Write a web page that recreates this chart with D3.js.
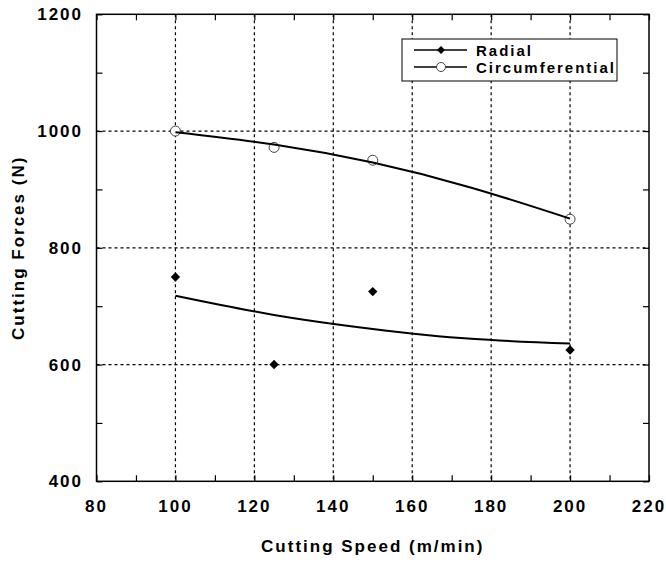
<!DOCTYPE html>
<html>
<head>
<meta charset="utf-8">
<script src="https://cdn.jsdelivr.net/npm/d3@7"></script>
<style>
  body { margin: 0; background: #fff; }
  text { font-family: "Liberation Sans", Arial, sans-serif; font-weight: bold; fill: #000; }
</style>
</head>
<body>
<div class="root"></div>
<script>

var speeds          = [100, 125, 150, 200];
var radial          = [750, 600, 725, 625];
var circumferential = [1000, 972, 950, 849];

// trend curves, read at a few speeds
var fitSpeeds = [100, 125, 150, 175, 200];
var radialFit = [718, 685, 661, 644, 636];
var circFit   = [998, 977, 946, 903, 850];

var xTicks = [80, 100, 120, 140, 160, 180, 200, 220];
var yTicks = [400, 600, 800, 1000, 1200];
var xGrid  = [100, 120, 140, 160, 180, 200];
var yGrid  = [600, 800, 1000];

var width = 666, height = 562;
// (window.top is read-only, so the plot edges get their own names)
var plotLeft = 96.5, plotRight = 649, plotTop = 14.3, plotBottom = 481.3;

var svg = d3.select('.root')
            .append('svg')
            .attr('width', width)
            .attr('height', height);

var x = d3.scaleLinear().domain([80, 220]).range([plotLeft, plotRight]);
var y = d3.scaleLinear().domain([400, 1200]).range([plotBottom, plotTop]);

// dotted grid
svg.append('g').selectAll('line')
   .data(xGrid).enter().append('line')
   .attr('x1', d => x(d)).attr('x2', d => x(d))
   .attr('y1', plotTop).attr('y2', plotBottom)
   .style('stroke', '#000').style('stroke-width', 1.2)
   .style('stroke-dasharray', '3,3');

svg.append('g').selectAll('line')
   .data(yGrid).enter().append('line')
   .attr('y1', d => y(d)).attr('y2', d => y(d))
   .attr('x1', plotLeft).attr('x2', plotRight)
   .style('stroke', '#000').style('stroke-width', 1.2)
   .style('stroke-dasharray', '3,3');

// axes: ticks point inward on all four sides
var minorX = d3.range(80, 221, 10);
var minorY = d3.range(400, 1201, 100);

var xBottom = d3.axisTop(x).tickValues(minorX).tickSize(6).tickFormat('');
var xTop    = d3.axisBottom(x).tickValues(minorX).tickSize(6).tickFormat('');
var yLeft   = d3.axisRight(y).tickValues(minorY).tickSize(6).tickFormat('');
var yRight  = d3.axisLeft(y).tickValues(minorY).tickSize(6).tickFormat('');

[[xBottom, 'translate(0,' + plotBottom + ')'],
 [xTop,    'translate(0,' + plotTop + ')'],
 [yLeft,   'translate(' + plotLeft + ',0)'],
 [yRight,  'translate(' + plotRight + ',0)']].forEach(function (a) {
  var g = svg.append('g').attr('transform', a[1]).call(a[0]);
  g.select('.domain').remove();
  g.selectAll('line').style('stroke', '#000').style('stroke-width', 1.2);
});

svg.append('rect')
   .attr('x', plotLeft).attr('y', plotTop)
   .attr('width', plotRight - plotLeft).attr('height', plotBottom - plotTop)
   .style('fill', 'none').style('stroke', '#000').style('stroke-width', 1.5);

// tick labels
svg.append('g').selectAll('text')
   .data(xTicks).enter().append('text')
   .attr('x', d => x(d)).attr('y', 512)
   .attr('text-anchor', 'middle')
   .style('font-size', '17px').style('letter-spacing', '2px')
   .text(d => d);

svg.append('g').selectAll('text')
   .data(yTicks).enter().append('text')
   .attr('x', 83).attr('y', d => y(d) + 6)
   .attr('text-anchor', 'end')
   .style('font-size', '17px').style('letter-spacing', '2px')
   .text(d => d);

// axis titles
svg.append('text')
   .attr('x', x(150)).attr('y', 552)
   .attr('text-anchor', 'middle')
   .style('font-size', '17px').style('letter-spacing', '2px')
   .text('Cutting Speed (m/min)');

svg.append('text')
   .attr('transform', 'translate(24,' + y(800) + ') rotate(-90)')
   .attr('text-anchor', 'middle')
   .style('font-size', '17px').style('letter-spacing', '2px')
   .text('Cutting Forces (N)');

// points and trend curves
var curve = d3.line()
              .x(d => x(d[0]))
              .y(d => y(d[1]))
              .curve(d3.curveNatural);

// square turned 45 degrees, as wide as it is tall
var diamond = d3.symbol().type(d3.symbolSquare).size(44);

svg.append('g').selectAll('circle')
   .data(d3.zip(speeds, circumferential)).enter().append('circle')
   .attr('cx', d => x(d[0])).attr('cy', d => y(d[1]))
   .attr('r', 5)
   .style('fill', '#fff').style('stroke', '#444').style('stroke-width', 1);

svg.append('path')
   .datum(d3.zip(fitSpeeds, circFit))
   .attr('d', curve)
   .style('fill', 'none').style('stroke', '#000').style('stroke-width', 2);

svg.append('path')
   .datum(d3.zip(fitSpeeds, radialFit))
   .attr('d', curve)
   .style('fill', 'none').style('stroke', '#000').style('stroke-width', 2);

svg.append('g').selectAll('path')
   .data(d3.zip(speeds, radial)).enter().append('path')
   .attr('d', diamond)
   .attr('transform', d => 'translate(' + x(d[0]) + ',' + y(d[1]) + ') rotate(45)')
   .style('fill', '#000');

// legend
var legend = svg.append('g');
legend.append('rect')
      .attr('x', 402).attr('y', 39).attr('width', 215).attr('height', 42)
      .style('fill', '#fff').style('stroke', '#000').style('stroke-width', 1);

var items = [['Radial', 50], ['Circumferential', 67]];
items.forEach(function (it, i) {
  legend.append('line')
        .attr('x1', 414).attr('x2', 467).attr('y1', it[1]).attr('y2', it[1])
        .style('stroke', '#000').style('stroke-width', 1.5);
  if (i === 0) {
    legend.append('path').attr('d', d3.symbol().type(d3.symbolSquare).size(32))
          .attr('transform', 'translate(441,' + it[1] + ') rotate(45)')
          .style('fill', '#000');
  } else {
    legend.append('circle').attr('cx', 441).attr('cy', it[1]).attr('r', 4.5)
          .style('fill', '#fff').style('stroke', '#444');
  }
  legend.append('text')
        .attr('x', 476).attr('y', it[1] + 5.5)
        .style('font-size', '15px').style('letter-spacing', '2px')
        .text(it[0]);
});

</script>
</body>
</html>
